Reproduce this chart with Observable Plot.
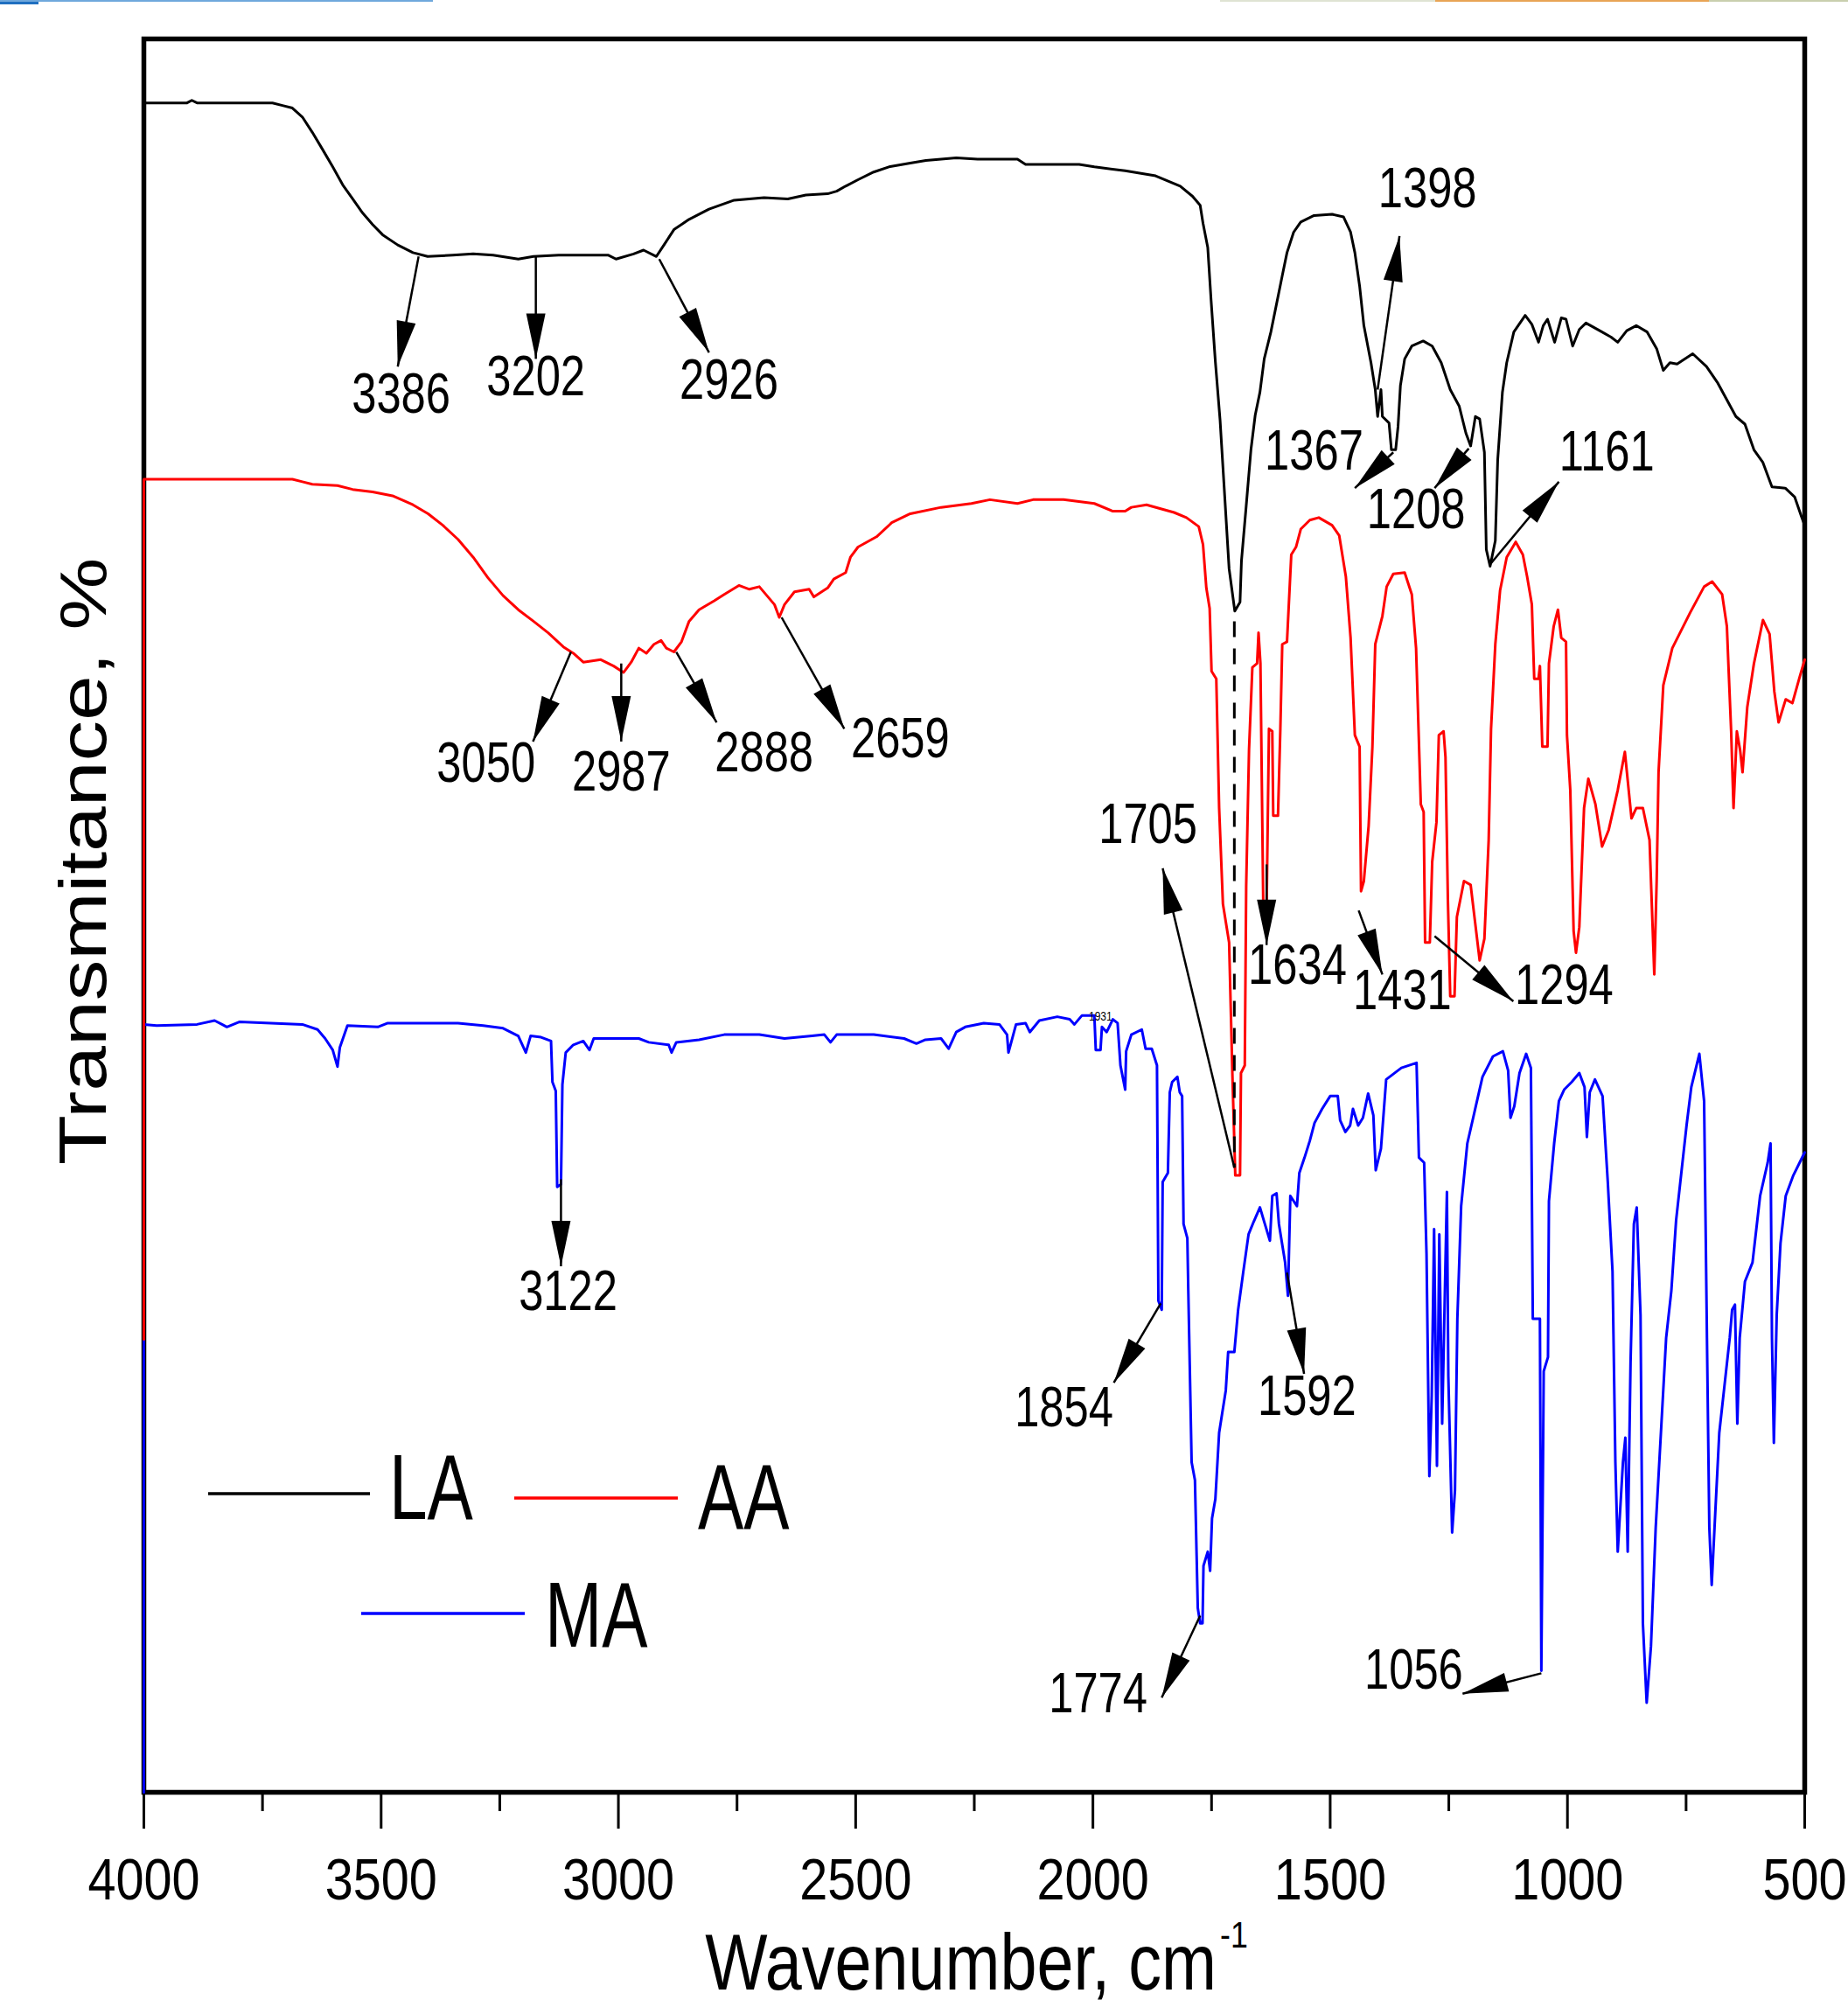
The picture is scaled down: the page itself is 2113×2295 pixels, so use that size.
<!DOCTYPE html>
<html>
<head>
<meta charset="utf-8">
<script src="https://cdn.jsdelivr.net/npm/d3@7"></script>
<script src="https://cdn.jsdelivr.net/npm/@observablehq/plot@0.6"></script>
<style>
html, body { margin: 0; padding: 0; background: #fff; overflow: hidden; }
#wrap { position: relative; width: 2113px; height: 2295px; background: #fff; }
#wrap > svg { position: absolute; left: 0; top: 0; }
.bar { position: absolute; }
</style>
</head>
<body>
<div id="wrap"></div>
<script>
// ---------------- DATA ----------------
// [wavenumber (cm^-1), transmittance (arbitrary offset %)]
const LA = [
[4000,132.0],[3909,132.0],[3899,132.2],[3888,132.0],[3729,132.0],[3708,131.8],[3687,131.6],[3666,130.9],[3645,129.7],[3624,128.4],
[3602,127.0],[3581,125.6],[3560,124.5],[3539,123.4],[3518,122.5],[3497,121.7],[3465,120.9],[3433,120.3],[3402,120.0],[3349,120.1],
[3306,120.2],[3264,120.1],[3211,119.8],[3179,120.0],[3126,120.1],[3021,120.1],[3005,119.8],[2968,120.2],[2947,120.5],[2920,120.0],
[2904,120.9],[2883,122.1],[2851,122.9],[2809,123.7],[2756,124.4],[2693,124.6],[2643,124.5],[2605,124.8],[2559,124.9],[2540,125.1],
[2521,125.5],[2495,126.0],[2462,126.6],[2430,127.0],[2385,127.3],[2352,127.5],[2288,127.7],[2243,127.6],[2159,127.6],[2142,127.2],
[2029,127.2],[1997,127.0],[1932,126.7],[1868,126.3],[1816,125.5],[1790,124.7],[1774,124.0],[1768,122.6],[1758,120.7],[1751,116.6],
[1742,111.8],[1732,107.2],[1722,101.1],[1713,95.6],[1701,92.3],[1690,93.0],[1687,96.2],[1677,100.5],[1667,104.9],[1658,107.6],
[1648,109.4],[1639,112.0],[1625,114.1],[1601,118.5],[1591,120.3],[1577,121.9],[1562,122.7],[1534,123.2],[1496,123.3],[1472,123.1],
[1457,121.9],[1448,120.3],[1438,117.7],[1429,114.6],[1414,111.7],[1405,109.6],[1400,107.5],[1393,109.6],[1390,107.5],[1376,107.0],
[1371,104.9],[1362,104.9],[1357,106.7],[1352,109.9],[1343,112.0],[1328,113.0],[1304,113.4],[1285,113.0],[1266,111.7],[1247,109.6],
[1228,108.3],[1214,106.2],[1204,105.2],[1194,107.5],[1185,107.3],[1175,104.7],[1171,97.1],[1163,95.8],[1152,97.8],[1147,104.1],
[1137,109.4],[1128,111.7],[1113,114.1],[1089,115.4],[1075,114.7],[1061,113.3],[1051,114.6],[1042,115.1],[1027,113.3],[1013,115.2],
[1003,115.1],[989,113.0],[975,114.3],[961,114.8],[932,114.2],[908,113.7],[894,113.3],[875,114.2],[855,114.6],[832,114.1],
[812,112.8],[798,111.1],[784,111.7],[769,111.6],[736,112.4],[707,111.4],[683,110.1],[664,108.8],[645,107.5],[626,106.9],
[607,104.9],[588,103.9],[569,102.0],[541,101.9],[521,101.2],[507,99.7],[500,99.0]
];

const AA = [
[4000,35.4],[4000,102.6],[3687,102.6],[3666,102.4],[3645,102.2],[3592,102.1],[3560,101.8],[3518,101.6],[3476,101.3],[3433,100.6],
[3401,99.9],[3370,99.0],[3338,97.9],[3306,96.5],[3275,94.9],[3243,93.5],[3211,92.4],[3179,91.5],[3148,90.6],[3116,89.5],
[3095,89.0],[3074,88.3],[3037,88.5],[3010,88.0],[2989,87.5],[2973,88.3],[2957,89.4],[2941,89.0],[2925,89.7],[2910,90.0],
[2899,89.4],[2883,89.1],[2867,89.9],[2851,91.5],[2830,92.4],[2798,93.1],[2777,93.6],[2746,94.3],[2724,94.0],[2703,94.2],
[2687,93.5],[2671,92.8],[2661,91.8],[2650,92.8],[2629,93.8],[2598,94.0],[2588,93.4],[2559,94.1],[2546,94.8],[2521,95.3],
[2511,96.5],[2495,97.3],[2456,98.1],[2424,99.2],[2385,99.9],[2320,100.4],[2256,100.7],[2217,101.0],[2159,100.7],[2126,101.0],
[2062,101.0],[1997,100.7],[1958,100.1],[1932,100.1],[1919,100.4],[1887,100.6],[1829,100.0],[1803,99.6],[1777,98.9],[1768,97.5],
[1761,94.1],[1754,92.5],[1750,87.6],[1740,87.0],[1734,76.9],[1726,69.4],[1713,66.4],[1706,56.0],[1700,48.2],[1690,48.2],
[1688,56.2],[1680,56.8],[1677,70.8],[1671,81.5],[1664,87.9],[1654,88.2],[1651,90.6],[1647,88.2],[1641,69.3],[1634,69.0],
[1629,83.1],[1622,82.9],[1620,76.3],[1610,76.3],[1605,83.1],[1601,89.7],[1591,89.9],[1582,96.7],[1572,97.3],[1562,98.7],
[1543,99.4],[1524,99.6],[1496,99.0],[1481,98.2],[1467,95.0],[1457,90.2],[1448,82.6],[1438,81.7],[1435,70.4],[1429,71.2],
[1419,75.5],[1411,81.7],[1405,89.7],[1390,91.9],[1381,94.2],[1367,95.2],[1343,95.3],[1328,93.6],[1319,89.4],[1309,77.2],
[1303,76.6],[1300,66.4],[1290,66.4],[1285,72.7],[1276,75.8],[1271,82.6],[1261,82.9],[1257,80.9],[1252,69.8],[1247,62.2],
[1238,62.2],[1233,68.4],[1218,71.2],[1204,70.9],[1195,68.1],[1185,65.0],[1175,66.7],[1166,74.4],[1161,83.1],[1152,89.7],
[1142,93.9],[1128,96.5],[1109,97.7],[1094,96.7],[1085,95.0],[1075,92.8],[1070,87.0],[1061,87.0],[1058,88.0],[1053,81.7],
[1042,81.7],[1039,88.2],[1029,91.1],[1020,92.4],[1013,90.2],[1003,89.9],[1001,82.6],[994,78.3],[987,67.3],[982,65.6],
[975,67.6],[965,76.9],[956,79.2],[941,77.2],[927,73.9],[913,75.2],[894,78.3],[879,81.3],[865,76.1],[855,76.9],
[841,76.9],[827,74.4],[817,63.9],[812,71.2],[808,79.7],[798,86.5],[779,89.4],[741,92.2],[712,94.2],[695,94.6],
[674,93.6],[664,91.1],[660,87.4],[655,82.9],[650,76.9],[643,82.9],[636,81.4],[631,79.7],[621,84.8],[607,88.2],
[588,91.6],[574,90.5],[564,86.0],[555,83.6],[540,85.4],[526,85.1],[511,87.1],[500,88.5]
];

const MA = [
[4000,0],[4000,60.0],[3973,59.9],[3888,60.0],[3851,60.3],[3825,59.8],[3798,60.2],[3666,60.0],[3634,59.6],[3618,58.9],
[3602,58.0],[3592,56.7],[3587,58.2],[3571,59.9],[3507,59.8],[3486,60.1],[3338,60.1],[3285,59.9],[3243,59.7],[3211,59.1],
[3195,57.8],[3185,59.1],[3163,59.0],[3142,58.7],[3139,55.5],[3132,54.8],[3129,47.3],[3121,47.5],[3118,55.3],[3111,57.8],
[3095,58.4],[3074,58.7],[3061,58.0],[3052,58.9],[2957,58.9],[2936,58.6],[2894,58.4],[2888,57.8],[2878,58.6],[2830,58.8],
[2777,59.2],[2703,59.2],[2650,58.9],[2592,59.1],[2566,59.2],[2553,58.6],[2540,59.2],[2462,59.2],[2398,58.9],[2372,58.5],
[2353,58.8],[2320,58.9],[2304,58.1],[2288,59.4],[2269,59.8],[2230,60.1],[2197,60.0],[2181,59.2],[2178,57.8],[2162,60.0],
[2142,60.1],[2133,59.4],[2113,60.3],[2075,60.6],[2049,60.4],[2039,60.0],[2023,60.7],[1997,60.7],[1994,58.0],[1984,58.0],
[1981,59.8],[1971,59.4],[1958,60.4],[1948,60.1],[1942,56.8],[1932,54.9],[1930,57.9],[1919,59.2],[1897,59.6],[1889,58.1],
[1876,58.1],[1865,56.8],[1862,38.4],[1855,37.7],[1853,47.7],[1842,48.4],[1838,54.7],[1833,55.5],[1822,55.9],[1817,54.7],
[1812,54.4],[1809,44.4],[1801,43.3],[1799,39.2],[1792,25.8],[1785,24.4],[1779,14.4],[1774,13.2],[1769,13.2],[1767,17.7],
[1758,18.8],[1753,17.3],[1749,21.4],[1742,22.9],[1734,28.1],[1720,31.4],[1715,34.4],[1702,34.4],[1694,37.7],[1683,40.7],
[1672,43.6],[1661,44.6],[1648,45.7],[1640,44.7],[1627,43.1],[1622,46.6],[1613,46.8],[1608,44.4],[1595,41.4],[1589,38.8],
[1584,46.6],[1570,45.8],[1565,48.4],[1554,49.6],[1543,50.9],[1533,52.3],[1517,53.4],[1500,54.4],[1484,54.4],[1479,52.5],
[1468,51.6],[1458,52.1],[1452,53.4],[1441,52.1],[1431,52.7],[1420,54.6],[1409,52.9],[1404,48.6],[1393,50.3],[1382,55.7],
[1350,56.6],[1318,57.0],[1313,49.6],[1302,49.2],[1297,42.1],[1291,24.7],[1286,31.0],[1281,44.0],[1275,25.5],[1270,43.6],
[1264,28.8],[1254,46.9],[1251,32.5],[1243,20.3],[1237,23.6],[1232,37.0],[1224,45.8],[1211,50.7],[1195,53.3],[1179,55.9],
[1157,57.5],[1136,57.9],[1125,56.4],[1120,52.7],[1112,53.6],[1101,56.2],[1087,57.7],[1077,56.6],[1073,37.0],[1058,37.0],
[1055,9.5],[1050,32.9],[1041,34.0],[1039,46.2],[1028,50.7],[1018,54.0],[1007,54.9],[991,55.5],[975,56.2],[964,55.1],
[959,51.2],[953,54.7],[942,55.7],[926,54.4],[915,47.7],[905,40.7],[899,25.8],[894,18.8],[883,25.8],[878,27.7],
[873,18.8],[867,33.6],[860,44.4],[854,45.7],[846,37.3],[841,13.2],[833,7.0],[824,11.4],[814,20.7],[803,28.1],
[792,35.5],[781,39.2],[771,44.7],[760,48.4],[749,52.1],[739,55.1],[722,57.7],[712,54.0],[706,35.5],[701,20.7],
[696,16.2],[690,20.7],[680,28.1],[669,31.8],[658,35.5],[653,37.7],[647,38.1],[642,28.8],[637,35.5],[626,39.9],
[610,41.4],[594,46.6],[578,49.2],[572,50.7],[569,35.5],[565,27.3],[559,37.3],[551,42.9],[540,46.6],[524,48.2],
[508,49.4],[500,50.0]
];

const seriesNames  = ["LA", "AA", "MA"];
const seriesColors = ["#000000", "#ff0000", "#0000ff"];

const xMajorTicks = [4000, 3500, 3000, 2500, 2000, 1500, 1000, 500];
const xMinorTicks = [3750, 3250, 2750, 2250, 1750, 1250, 750];

// Peak annotations: label text, label position, arrow tail, arrow tip
const peakText = ["3386","3202","2926","1398","1367","1208","1161","3050","2987","2888","2659",
                  "1705","1634","1431","1294","3122","1854","1774","1592","1056"];
const peakLabelPos = [[3458,109.2],[3174,110.6],[2767,110.3],[1295,125.3],[1534,104.8],[1319,100.2],[917,104.7],
                  [3279,80.4],[2994,79.7],[2693,81.2],[2406,82.3],[1884,75.6],[1569,64.6],[1348,62.6],[1007,63.0],
                  [3106,39.1],[2061,30.0],[1989,7.7],[1549,30.9],[1324,9.5]];
const arrowTail = [[3421,120.0],[3174,120.0],[2914,119.8],[1400,109.6],[1367,104.7],[1208,105.0],[1164,95.9],
                  [3100,89.1],[2994,88.2],[2878,89.1],[2656,91.8],[1702,48.8],[1634,72.5],[1440,68.9],[1280,66.9],
                  [3121,47.9],[1857,38.2],[1774,13.8],[1591,40.6],[1055,9.3]];
const arrowTip  = [[3465,111.4],[3174,112.0],[2809,112.5],[1354,121.6],[1448,101.9],[1280,101.9],[1018,102.4],
                  [3180,82.1],[2994,82.1],[2793,83.6],[2524,83.1],[1853,72.2],[1634,66.2],[1390,63.9],[1114,61.8],
                  [3121,41.1],[1956,32.0],[1855,7.4],[1555,32.7],[1221,7.7]];
const dashedGuide = [[1702, 91.5], [1702, 48.8]];
const smallNote = {text: "1931", pos: [1984, 60.6]};

// ---------------- LAYOUT ----------------
const W = 2113, H = 2295;
const M = {top: 44, right: 50, bottom: 246, left: 164};
const xDomain = [4000, 500], yDomain = [0, 137];
const FONT = '"Liberation Sans",Arial,sans-serif';

const kx = (W - M.left - M.right) / (xDomain[0] - xDomain[1]);
const ky = (H - M.top - M.bottom) / (yDomain[1] - yDomain[0]);

const annotations = peakText.map((t, i) => ({
  text: t,
  lx: peakLabelPos[i][0], ly: peakLabelPos[i][1],
  tailWn: arrowTail[i][0], tailT: arrowTail[i][1],
  tipWn: arrowTip[i][0], tipT: arrowTip[i][1]
}));
function headAngle(a) {
  const dx = -(a.tipWn - a.tailWn) * kx;
  const dy = -(a.tipT - a.tailT) * ky;
  return Math.atan2(dx, -dy) * 180 / Math.PI;
}
const arrowHead = {
  draw(ctx) { ctx.moveTo(0, 0); ctx.lineTo(11, 52); ctx.lineTo(-11, 52); ctx.closePath(); }
};

const series = [
  {data: MA, color: seriesColors[2]},
  {data: AA, color: seriesColors[1]},
  {data: LA, color: seriesColors[0]}
];

// font sizes (used also to pick the horizontal condensing of each text group)
const FS = {tick: 67, peak: 65, note: 15, ylab: 93, xlab: 91, sup: 42, legend: 106};

const chart = Plot.plot({
  width: W, height: H,
  marginTop: M.top, marginRight: M.right, marginBottom: M.bottom, marginLeft: M.left,
  style: {fontFamily: FONT, background: "white", color: "black", overflow: "visible"},
  x: {domain: xDomain},
  y: {domain: yDomain, axis: null},
  marks: [
    Plot.axisX({ticks: xMinorTicks, tickSize: 22, tickFormat: () => "", strokeWidth: 3, label: null}),
    Plot.axisX({ticks: xMajorTicks, tickSize: 42, tickPadding: 33, tickFormat: "d",
                fontSize: FS.tick, fontFamily: FONT, strokeWidth: 3, label: null}),
    Plot.frame({stroke: "black", strokeWidth: 5.5}),
    ...series.map(s => Plot.line(s.data, {x: d => d[0], y: d => d[1], stroke: s.color, strokeWidth: 3})),
    Plot.link([dashedGuide], {x1: d => d[0][0], y1: d => d[0][1], x2: d => d[1][0], y2: d => d[1][1],
              stroke: "black", strokeWidth: 3, strokeDasharray: "18,13"}),
    Plot.link(annotations, {x1: "tailWn", y1: "tailT", x2: "tipWn", y2: "tipT", stroke: "black", strokeWidth: 2.5}),
    Plot.dot(annotations, {x: "tipWn", y: "tipT", symbol: arrowHead, rotate: headAngle, r: 10,
              fill: "black", stroke: "none"}),
    Plot.text(annotations, {x: "lx", y: "ly", text: "text", fontSize: FS.peak, fontFamily: FONT, fill: "black"}),
    Plot.text([smallNote], {x: d => d.pos[0], y: d => d.pos[1], text: "text", fontSize: FS.note, fontFamily: FONT, fill: "black"}),
    Plot.text(["Transmitance, %"], {frameAnchor: "left", textAnchor: "middle", lineAnchor: "middle", rotate: -90,
              dx: -68, dy: -62, fontSize: FS.ylab, fontFamily: FONT, fill: "black"}),
    Plot.text(["Wavenumber, cm"], {frameAnchor: "bottom", textAnchor: "end", lineAnchor: "bottom",
              dx: 277, dy: 225, fontSize: FS.xlab, fontFamily: FONT, fill: "black"}),
    Plot.text(["-1"], {frameAnchor: "bottom", textAnchor: "start", lineAnchor: "bottom",
              dx: 281, dy: 177, fontSize: FS.sup, fontFamily: FONT, fill: "black"})
  ]
});

// Condense text horizontally (on screen) like the narrow lettering of the original figure
const condense = {[FS.tick]: [0.86, 1], [FS.peak]: [0.78, 1], [FS.note]: [0.8, 1],
                  [FS.ylab]: [1, 0.82], [FS.xlab]: [0.83, 1], [FS.sup]: [0.85, 1]};
chart.querySelectorAll("text").forEach(el => {
  const holder = el.closest("[font-size]");
  if (!holder) return;
  const fs = parseFloat(holder.getAttribute("font-size"));
  const s = condense[fs];
  if (!s) return;
  const x = +el.getAttribute("x") || 0;
  const y = +el.getAttribute("y") || 0;
  const t = el.getAttribute("transform") || "";
  el.setAttribute("transform", `${t} translate(${x},${y}) scale(${s[0]},${s[1]}) translate(${-x},${-y})`);
});

const wrap = document.getElementById("wrap");
wrap.appendChild(chart);

// ---------------- LEGEND (inside plot area, lower left) ----------------
const legendLayout = [
  {x1: 238, x2: 423, y: 1708, tx: 445, ty: 1737},
  {x1: 588, x2: 775, y: 1713, tx: 798, ty: 1748},
  {x1: 413, x2: 600, y: 1845, tx: 623, ty: 1883}
];
const leg = d3.create("svg")
  .attr("width", W).attr("height", H)
  .style("pointer-events", "none");
seriesNames.forEach((name, i) => {
  const p = legendLayout[i];
  leg.append("line").attr("x1", p.x1).attr("x2", p.x2).attr("y1", p.y).attr("y2", p.y)
    .attr("stroke", seriesColors[i]).attr("stroke-width", 3.5);
  leg.append("text").attr("transform", `translate(${p.tx},${p.ty}) scale(0.74,1)`).text(name)
    .attr("font-family", FONT).attr("font-size", FS.legend).attr("fill", "black");
});
wrap.appendChild(leg.node());

// thin page-edge strips visible at the very top of the reference image
[[0,0,495,2,"#6fa8dc"],[0,2,44,3,"#1f6fc0"],[1395,0,246,2,"#dfe3d3"],[1641,0,313,2,"#e8a455"],[1954,0,159,2,"#c9cfae"]]
  .forEach(([l,t,w,h,c]) => {
    const d = document.createElement("div");
    d.className = "bar";
    Object.assign(d.style, {left: l+"px", top: t+"px", width: w+"px", height: h+"px", background: c});
    wrap.appendChild(d);
  });
</script>
</body>
</html>
